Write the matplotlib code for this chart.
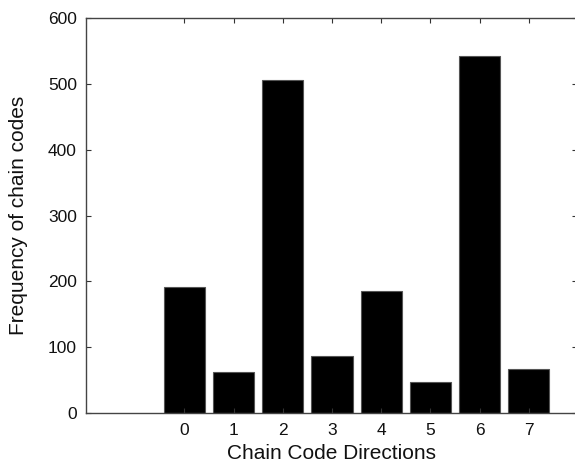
import matplotlib
matplotlib.use("Agg")
import matplotlib.pyplot as plt

directions = [0, 1, 2, 3, 4, 5, 6, 7]
frequencies = [192, 63, 506, 86, 186, 47, 542, 67]
tick_labels = ["0", "1", "2", "3", "4", "5", "6", "7"]
y_ticks = [0, 100, 200, 300, 400, 500, 600]

plt.rcParams['font.family'] = ['Liberation Sans', 'DejaVu Sans']

fig = plt.figure(figsize=(5.75, 4.66), dpi=100)
ax = fig.add_axes([86/575, 1 - 413/466, (577 - 86)/575, (413 - 18)/466])

ax.bar(directions, frequencies, width=0.84, color='black', edgecolor='#555555', linewidth=0.8)

ax.set_xlim(-2, 7.98)
ax.set_ylim(0, 600)
ax.set_xticks(directions)
ax.set_xticklabels(tick_labels)
ax.set_yticks(y_ticks)

ax.tick_params(direction='in', length=3.5, width=0.8, color='#333333',
               top=True, right=True, labelsize=12.5, labelcolor='#111111')
ax.tick_params(axis='x', pad=7)
ax.tick_params(axis='y', pad=6.5)
for s in ax.spines.values():
    s.set_color('#444444')
    s.set_linewidth(1.0)

ax.set_xlabel('Chain Code Directions', fontsize=15, labelpad=4.5, color='#111111')
ax.set_ylabel('Frequency of chain codes', fontsize=15, labelpad=14.5, color='#111111')

fig.savefig('out.png', dpi=100)
